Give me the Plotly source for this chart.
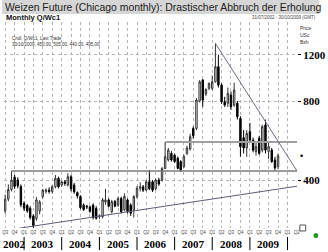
import math
import pandas as pd
import plotly.graph_objects as go

# ---------------- data (US cents / bushel, monthly candles) ----------------
opens = [305, 338, 368, 410, 400, 378,
         326, 320, 312, 292, 285, 305, 346, 362, 366, 362, 377, 406,
         383, 394, 383, 412, 383, 358, 346, 321, 318, 316, 321, 312,
         290, 290, 330, 336, 303, 331, 321, 340, 308, 336, 321, 308,
         346, 372, 377, 366, 394, 394, 371, 400, 400, 443, 477, 505,
         498, 484, 470, 450, 505, 525, 629, 629, 800, 962, 850, 894,
         894, 947, 1081, 920, 795, 784, 843, 772, 784, 687, 580, 530,
         611, 568, 513, 577, 520, 648, 513, 520, 477, 450]
highs = [352, 385, 433, 418, 410, 385,
         332, 324, 318, 296, 345, 335, 370, 372, 375, 382, 418, 412,
         398, 400, 425, 418, 390, 362, 350, 326, 322, 320, 326, 318,
         296, 342, 370, 340, 336, 336, 345, 346, 356, 340, 326, 350,
         380, 392, 383, 400, 437, 400, 405, 408, 448, 559, 530, 515,
         505, 492, 476, 500, 540, 600, 640, 820, 960, 970, 895, 940,
         1000, 1327, 1200, 935, 830, 900, 870, 940, 800, 700, 620, 620,
         660, 580, 560, 590, 650, 680, 560, 530, 490, 505]
lows = [298, 332, 362, 370, 372, 315,
        305, 300, 283, 262, 280, 296, 340, 355, 355, 355, 372, 372,
        378, 380, 378, 362, 355, 340, 310, 305, 310, 300, 283, 283,
        284, 286, 322, 314, 298, 315, 316, 298, 304, 298, 292, 288,
        340, 362, 360, 362, 366, 360, 366, 380, 395, 440, 470, 470,
        465, 440, 430, 445, 498, 518, 575, 620, 790, 760, 835, 880,
        880, 940, 900, 780, 760, 760, 740, 760, 680, 491, 505, 490,
        560, 510, 495, 500, 510, 505, 480, 465, 435, 440]
closes = [338, 368, 400, 378, 380, 322,
          312, 305, 288, 268, 336, 330, 366, 366, 362, 377, 406, 377,
          394, 388, 412, 370, 361, 348, 314, 309, 316, 304, 288, 286,
          292, 336, 336, 318, 331, 318, 340, 303, 346, 303, 299, 346,
          372, 377, 366, 394, 371, 366, 400, 386, 443, 491, 520, 477,
          470, 443, 437, 491, 530, 585, 590, 807, 947, 807, 885, 934,
          947, 1081, 920, 795, 772, 855, 761, 881, 697, 536, 530, 602,
          568, 520, 536, 505, 639, 520, 536, 470, 445, 495]
first_month = "2002-07-01"
months = pd.date_range(first_month, periods=len(opens), freq="MS")

quarter_starts = pd.date_range("2002-07-01", "2010-04-01", freq="QS")
quarter_labels = ["Q%d" % ((d.month - 1) // 3 + 1) for d in quarter_starts]
years = [2002, 2003, 2004, 2005, 2006, 2007, 2008, 2009]
year_breaks = [2003, 2004, 2005, 2006, 2007, 2008, 2009, 2010]
price_ticks = [400, 800, 1200]

x_start, x_end = "2002-06-20", "2010-04-03"
y_low, y_high = 262.6, 1600

# drawn lines (chart analysis)
support_line_x = ["2002-09-01", x_end]
support_line_y = [433, 433]
resist_line_x = ["2006-10-01", x_end]
resist_line_y = [559, 559]
down_trend_x = ["2008-02-01", x_end]
down_trend_y = [1327, 433]
up_trend_x = ["2002-09-20", x_end]
up_trend_y = [260, 379]

title_text = "Weizen Future (Chicago monthly): Drastischer Abbruch der Erholung"
ric_text = "Monthly Q/Wc1"
range_text = "31/07/2002 - 30/10/2009 (GMT)"
legend1 = "Cndl, Q/Wc1, Last Trade"
legend2 = "30/10/2009, 450.00, 505.00, 440.00, 495.00"
unit_text = ["Price", "USc", "Bsh"]

# ---------------- layout geometry ----------------
W, H = 328, 252
ML, MR, MT, MB = 2, 23, 22, 24
PW, PH = W - ML - MR, H - MT - MB


def px(x):
    return (x - ML) / PW


def py(y):
    return (H - MB - y) / PH


fig = go.Figure()

fig.add_trace(go.Candlestick(
    x=months, open=opens, high=highs, low=lows, close=closes,
    increasing=dict(line=dict(color="#333333", width=1), fillcolor="#ffffff"),
    decreasing=dict(line=dict(color="#000000", width=1), fillcolor="#000000"),
    whiskerwidth=0, showlegend=False, hoverinfo="skip"))

for lx, ly, col, w in [(support_line_x, support_line_y, "#7a7a7a", 1.6),
                       (resist_line_x, resist_line_y, "#a0a0a0", 2),
                       (down_trend_x, down_trend_y, "#6a6e80", 1),
                       (up_trend_x, up_trend_y, "#5a5e78", 1)]:
    fig.add_trace(go.Scatter(x=lx, y=ly, mode="lines",
                             line=dict(color=col, width=w),
                             showlegend=False, hoverinfo="skip"))

ann = []
shapes = []
FONT = "Liberation Sans"
NARROW = "Liberation Sans Narrow"

# title band
shapes.append(dict(type="rect", xref="paper", yref="paper",
                   x0=px(0), x1=px(W), y0=py(14), y1=py(0),
                   fillcolor="#d6d6d6", line=dict(width=0), layer="below"))
ann.append(dict(text=title_text, xref="paper", yref="paper", x=px(1), y=py(7),
                xanchor="left", yanchor="middle", showarrow=False,
                font=dict(family=FONT, size=10.4, color="#1a1a1a")))
ann.append(dict(text="<b>" + ric_text + "</b>", xref="paper", yref="paper",
                x=px(2), y=py(17.5), xanchor="left", yanchor="middle",
                showarrow=False, font=dict(family=FONT, size=7.5, color="#111")))
ann.append(dict(text=range_text, xref="paper", yref="paper", x=px(327),
                y=py(17), xanchor="right", yanchor="middle", showarrow=False,
                font=dict(family=FONT, size=4.5, color="#444")))
for i, t in enumerate(unit_text):
    ann.append(dict(text=t, xref="paper", yref="paper", x=px(306),
                    y=py(28 + 7 * i), xanchor="left", yanchor="middle",
                    showarrow=False, font=dict(family=FONT, size=5, color="#333")))
ann.append(dict(text=legend1, xref="paper", yref="paper", x=px(8), y=py(39),
                xanchor="left", yanchor="middle", showarrow=False,
                font=dict(family=FONT, size=4.5, color="#333")))
ann.append(dict(text=legend2, xref="paper", yref="paper", x=px(8), y=py(45),
                xanchor="left", yanchor="middle", showarrow=False,
                font=dict(family=FONT, size=4.5, color="#333")))

# last price marker on the right axis
ann.append(dict(text="\u2022", xref="paper", yref="y", x=px(306),
                y=math.log10(closes[-1]), xanchor="left", yanchor="middle",
                showarrow=False, font=dict(family=FONT, size=9, color="#000")))

# year labels and separators
rng0, rng1 = pd.Timestamp(x_start), pd.Timestamp(x_end)
for yr in years:
    a = max(pd.Timestamp(f"{yr}-01-01"), rng0)
    b = min(pd.Timestamp(f"{yr + 1}-01-01"), rng1)
    mid = a + (b - a) / 2
    ann.append(dict(text="<b>%d</b>" % yr, xref="x", yref="paper", x=mid,
                    y=py(243.5), xanchor="center", yanchor="middle",
                    showarrow=False,
                    font=dict(family=NARROW, size=11, color="#000")))
for yb in year_breaks:
    shapes.append(dict(type="line", xref="x", yref="paper",
                       x0=f"{yb}-01-01", x1=f"{yb}-01-01",
                       y0=py(237), y1=py(250), line=dict(color="#000", width=1)))

# small icon + status dot bottom right
shapes.append(dict(type="rect", xref="paper", yref="paper", x0=px(308),
                   x1=px(314), y0=py(231), y1=py(225),
                   line=dict(color="#555", width=1), fillcolor="#fff"))
shapes.append(dict(type="circle", xref="paper", yref="paper", x0=px(322),
                   x1=px(327), y0=py(238), y1=py(233),
                   line=dict(width=0), fillcolor="#1a9a1a"))

fig.update_layout(
    width=W, height=H,
    margin=dict(l=ML, r=MR, t=MT, b=MB, pad=0),
    paper_bgcolor="#ffffff", plot_bgcolor="#ffffff",
    annotations=ann, shapes=shapes, showlegend=False,
    xaxis=dict(type="date", range=[x_start, x_end],
               tickmode="array", tickvals=quarter_starts, ticktext=quarter_labels,
               tickfont=dict(family=FONT, size=4.5, color="#444"),
               showgrid=True, gridcolor="#b4b4b4", griddash="dot", gridwidth=1,
               rangeslider=dict(visible=False), zeroline=False, showline=False,
               ticks="", fixedrange=True),
    yaxis=dict(type="log", range=[math.log10(y_low), math.log10(y_high)],
               side="right", tickmode="array", tickvals=price_ticks,
               ticktext=["<b>%d</b>" % v for v in price_ticks],
               tickfont=dict(family=NARROW, size=11, color="#000"),
               ticks="outside", ticklen=3, tickcolor="#000",
               showgrid=True, gridcolor="#b4b4b4", griddash="dot", gridwidth=1,
               zeroline=False, showline=False, fixedrange=True),
)

fig.write_html("out.html")
